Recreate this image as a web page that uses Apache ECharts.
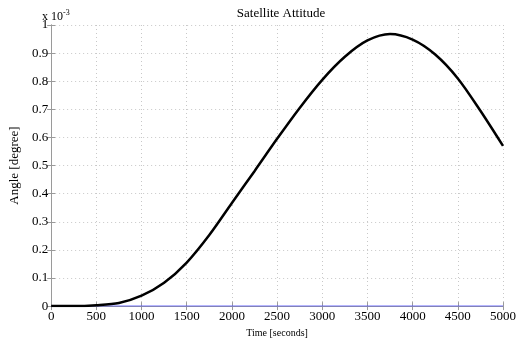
<!DOCTYPE html>
<html>
<head>
<meta charset="utf-8">
<script src="https://cdn.jsdelivr.net/npm/echarts@6/dist/echarts.min.js"></script>
<style>
  html, body { margin: 0; padding: 0; background: #fff; }
  #chart { width: 519px; height: 343px; }
</style>
</head>
<body>
<div id="chart"></div>
<script>
// time in seconds, angle in units of 1e-3 degree
const timeSec = [0, 250, 500, 750, 1000, 1250, 1500, 1750, 2000, 2250, 2500,
  2750, 3000, 3250, 3500, 3750, 4000, 4250, 4500, 4750, 5000];
const angle = [0, 0, 0.003, 0.011, 0.037, 0.083, 0.155, 0.253, 0.367, 0.48, 0.595,
  0.705, 0.805, 0.887, 0.945, 0.968, 0.948, 0.895, 0.81, 0.695, 0.57];
const zeroLine = [0, 0];
const zeroTimes = [0, 5000];

const font = "'Liberation Serif', 'DejaVu Serif', serif";
const boxColor = '#9a9a9a';

const chart = echarts.init(document.getElementById('chart'));

const gridStyle = { show: true, lineStyle: { color: '#c8c8c8', type: [1, 3], width: 1 } };

chart.setOption({
  animation: false,
  title: {
    text: 'Satellite Attitude',
    left: 276, top: 2, textAlign: 'center',
    textStyle: { fontFamily: font, fontSize: 13, fontWeight: 'normal', color: '#000' }
  },
  graphic: [{
    type: 'text',
    left: 42, top: 9,
    style: {
      text: '{a|x 10}{b|-3}',
      rich: {
        a: { fontFamily: font, fontSize: 12, fill: '#000', verticalAlign: 'bottom' },
        b: { fontFamily: font, fontSize: 8, fill: '#000', verticalAlign: 'top', padding: [0, 0, 6, 0] }
      }
    }
  }],
  grid: { left: 41, right: 8, top: 25, bottom: 27 },
  xAxis: [{
    type: 'value', min: 0, max: 5000, interval: 500,
    name: 'Time [seconds]', nameLocation: 'middle', nameGap: 16,
    nameTextStyle: { fontFamily: font, fontSize: 10, color: '#000' },
    axisLine: { show: true, lineStyle: { color: boxColor } },
    axisTick: { show: true, inside: true, length: 4, lineStyle: { color: boxColor } },
    axisLabel: { fontFamily: font, fontSize: 13, color: '#000', margin: 4, hideOverlap: false,
      formatter: v => String(v) },
    splitLine: gridStyle
  }, {
    type: 'value', min: 0, max: 5000, interval: 500, position: 'top',
    axisLine: { show: true, lineStyle: { color: boxColor } },
    axisTick: { show: true, inside: true, length: 4, lineStyle: { color: boxColor } },
    axisLabel: { show: false }, splitLine: { show: false }
  }],
  yAxis: [{
    type: 'value', min: 0, max: 1, interval: 0.1,
    name: 'Angle [degree]', nameLocation: 'middle', nameGap: 22,
    nameTextStyle: { fontFamily: font, fontSize: 13, color: '#000' },
    axisLine: { show: true, lineStyle: { color: boxColor } },
    axisTick: { show: true, inside: true, length: 4, lineStyle: { color: boxColor } },
    axisLabel: {
      fontFamily: font, fontSize: 13, color: '#000', margin: 3,
      formatter: v => String(Math.round(v * 10) / 10)
    },
    splitLine: gridStyle
  }, {
    type: 'value', min: 0, max: 1, interval: 0.1, position: 'right',
    axisLine: { show: true, lineStyle: { color: boxColor } },
    axisTick: { show: true, inside: true, length: 4, lineStyle: { color: boxColor } },
    axisLabel: { show: false }, splitLine: { show: false }
  }],
  series: [{
    type: 'line',
    data: zeroTimes.map((t, i) => [t, zeroLine[i]]),
    showSymbol: false,
    lineStyle: { color: '#4a4aff', width: 1 },
    z: 2
  }, {
    type: 'line',
    data: timeSec.map((t, i) => [t, angle[i]]),
    smooth: 0.3,
    showSymbol: false,
    lineStyle: { color: '#000', width: 2.5 },
    z: 3
  }]
});
</script>
</body>
</html>
